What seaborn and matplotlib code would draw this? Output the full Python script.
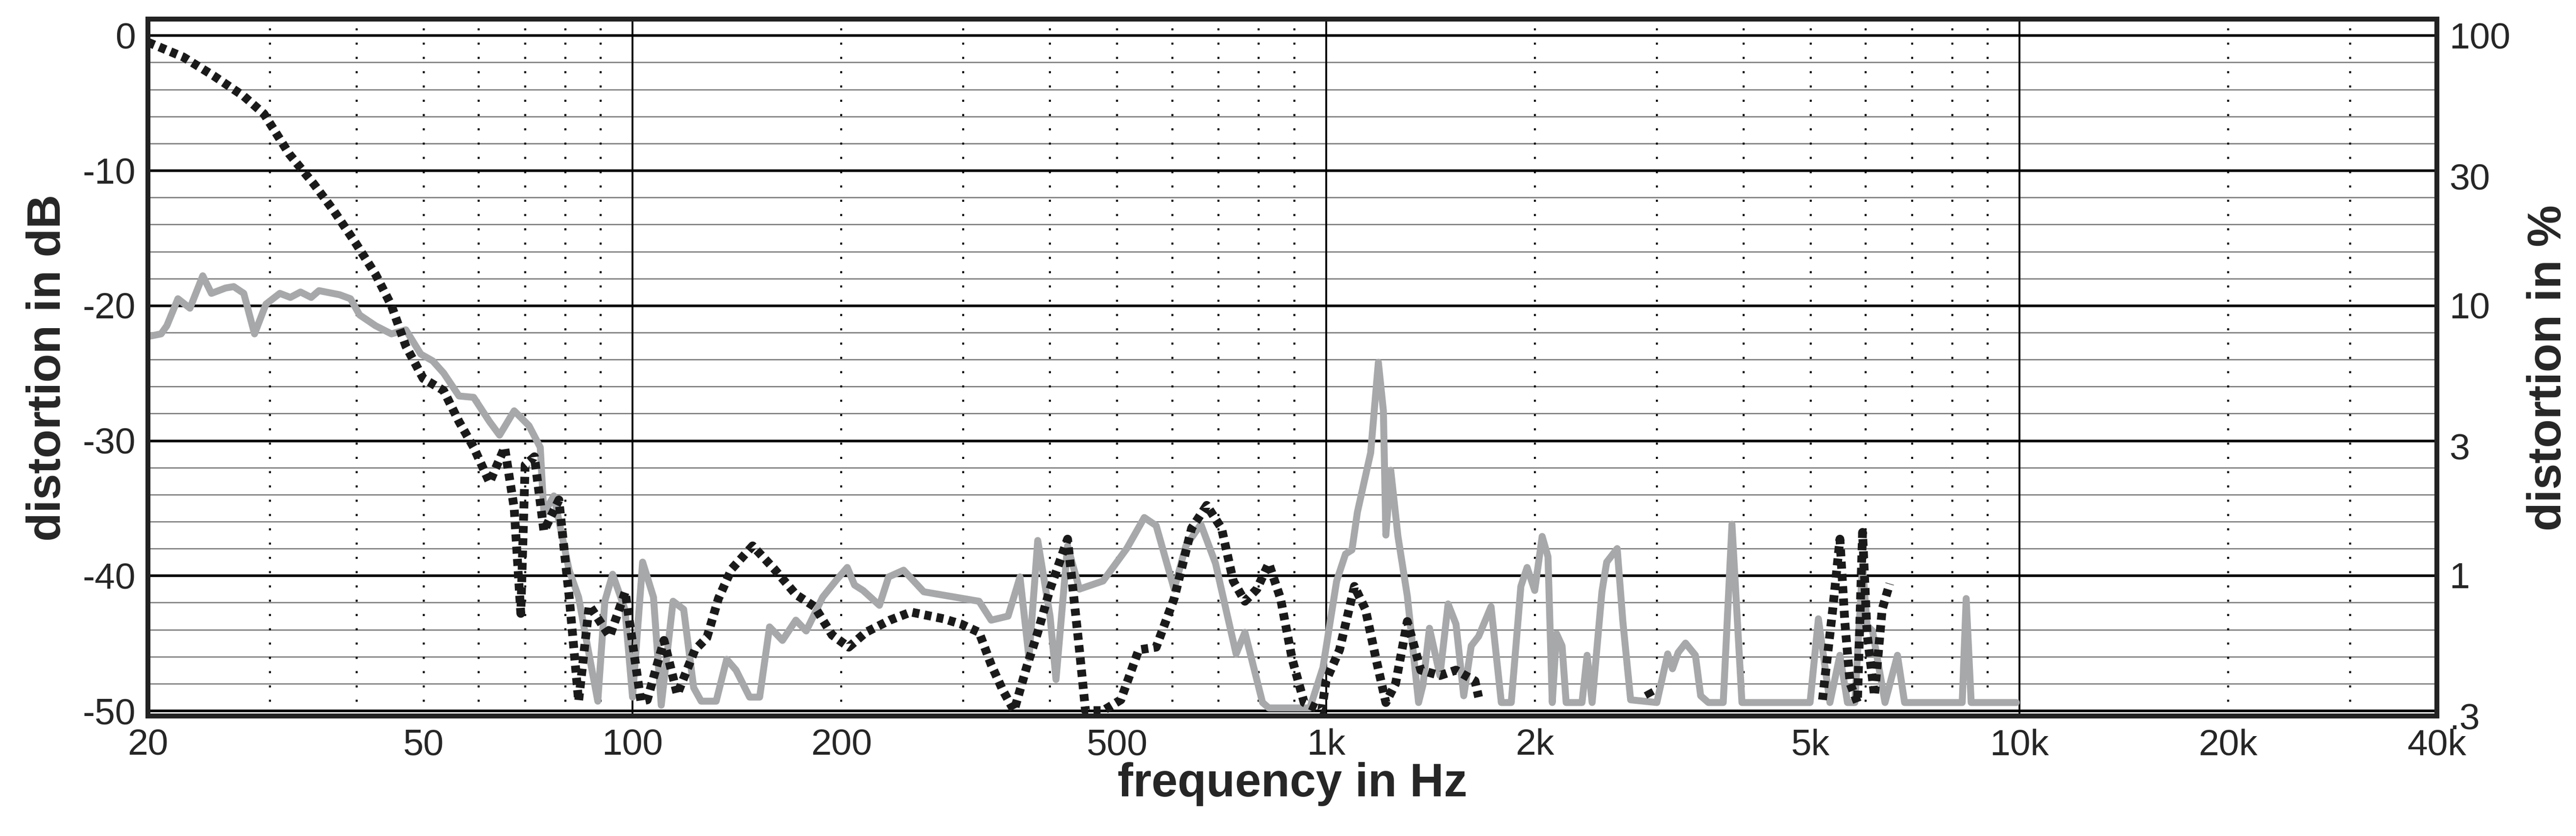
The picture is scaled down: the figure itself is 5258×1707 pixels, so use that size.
import numpy as np
import matplotlib
matplotlib.use("Agg")
import matplotlib.pyplot as plt
import seaborn as sns

# black dotted curve, split into segments (gaps where nothing is drawn)
black_f1 = [20, 22.5, 24.9, 27.5, 29.4, 32, 34.7, 37.1, 39.9, 42.6, 44.9, 47.1, 49.9,
            53.4, 56.2, 59.0, 62.2, 65.4, 67.5, 69, 70, 72.2, 74.5, 78.3, 81, 83.6,
            86.6, 92.7, 97.6, 102.8, 105, 111, 116, 123, 128, 133, 139, 149, 160,
            172, 183, 194, 205, 217, 235, 252, 281, 298, 316, 329, 342, 355, 370,
            384, 400, 424, 441, 450, 477, 506, 537, 569, 604, 640, 673, 707, 735,
            764, 795, 827, 860, 894, 930, 986, 1000, 1046, 1099, 1140, 1180, 1220,
            1260, 1310, 1370, 1460, 1540, 1640, 1660]
black_db1 = [-0.5, -1.6, -3.0, -4.5, -5.8, -8.8, -11.0, -13.0, -15.4, -17.7, -20.0, -23.0,
             -25.4, -26.3, -28.6, -30.5, -33.1, -30.5, -35.0, -42.8, -31.8, -31.2, -36.7,
             -34.4, -41.5, -49.3, -42.2, -44.5, -41.2, -49.3, -49.2, -44.8, -48.8,
             -45.5, -44.6, -41.7, -39.5, -37.8, -39.5, -41.4, -42.3, -44.4, -45.3,
             -44.2, -43.3, -42.7, -43.2, -43.6, -44.2, -46.6, -48.5, -50.0, -46.8,
             -44.2, -41.0, -37.3, -45.5, -50.0, -50.0, -49.2, -45.5, -45.3, -41.7,
             -36.5, -34.8, -36.5, -40.4, -41.9, -41.0, -39.1, -41.7, -46.2, -49.4,
             -50.0, -47.8, -45.5, -40.8, -42.5, -46.1, -49.4, -48.0, -43.4, -47.0,
             -47.4, -47.0, -47.8, -49.0]
black_f2 = [2910, 2960]
black_db2 = [-48.5, -49.2]
black_f3 = [5200, 5380, 5510, 5600, 5700, 5840, 5940, 6030, 6180, 6340, 6500]
black_db3 = [-49.2, -42.5, -37.3, -43.4, -48.0, -49.4, -36.8, -44.3, -48.9, -42.5, -40.6]

# grey solid curve
grey_f = [20, 20.9, 21.3, 22.1, 23, 24, 24.7, 25.9, 26.6, 27.5, 28.5, 29.6, 31.0, 32.1,
          33.2, 34.4, 35.3, 37.8, 39.2, 40.4, 42.6, 44.9, 47.1, 49.5, 51.5, 53.4, 56.2,
          59, 62.2, 64.3, 67.5, 70.9, 73.6, 74.5, 77, 81, 83.6, 85.8, 89.1, 91.2, 93.6,
          97.5, 100, 103.4, 107.2, 110, 114.4, 118.5, 122.5, 125.6, 132, 136.7, 141,
          147.5, 152.5, 157.6, 164.5, 172, 178, 188, 197, 204, 209, 215, 227, 234, 246,
          263, 316, 329, 348, 362, 373, 384, 400, 408, 424, 441, 477, 516, 547, 569,
          604, 628, 660, 693, 721, 742, 764, 810, 827, 948, 990, 1036, 1067, 1090, 1110,
          1160, 1190, 1210, 1220, 1240, 1270, 1310, 1360, 1380, 1410, 1460, 1500, 1540,
          1580, 1620, 1660, 1730, 1790, 1850, 1910, 1950, 2000, 2050, 2090, 2120, 2150,
          2190, 2220, 2340, 2380, 2420, 2500, 2540, 2630, 2680, 2750, 3000, 3110, 3160,
          3220, 3300, 3410, 3470, 3560, 3740, 3850, 3980, 4990, 5130, 5330, 5510, 5650,
          5790, 5940, 6030, 6140, 6400, 6670, 6830, 8270, 8380, 8520, 9900]
grey_db = [-22.3, -22.1, -21.5, -19.5, -20.2, -17.8, -19.1, -18.7, -18.6, -19.1, -22.1,
           -19.9, -19.1, -19.4, -19.0, -19.4, -18.9, -19.2, -19.5, -20.7, -21.5, -22.1,
           -21.8, -23.6, -24.1, -25.0, -26.7, -26.8, -28.6, -29.6, -27.8, -28.9, -30.5,
           -35.4, -34.1, -39.6, -41.6, -44.8, -49.3, -41.9, -39.9, -42.5, -49.0, -39.0,
           -41.6, -49.6, -41.9, -42.5, -48.3, -49.3, -49.3, -46.2, -47.0, -49.0, -49.0,
           -43.8, -44.8, -43.3, -44.1, -41.6, -40.3, -39.4, -40.7, -41.1, -42.2, -40.1,
           -39.6, -41.2, -41.9, -43.3, -43.0, -40.1, -46.1, -37.4, -43.0, -47.7, -37.8,
           -41.0, -40.4, -38.0, -35.7, -36.3, -41.0, -37.8, -36.2, -39.1, -43.0, -45.8,
           -44.2, -49.4, -49.8, -49.8, -46.8, -40.4, -38.4, -38.1, -35.3, -30.9, -24.2,
           -27.8, -37.0, -32.2, -37.1, -41.5, -49.4, -48.1, -43.9, -47.4, -42.1, -43.6,
           -48.9, -45.2, -44.5, -42.3, -49.4, -49.4, -40.8, -39.4, -41.1, -37.1, -38.6,
           -49.4, -44.3, -45.2, -49.4, -49.4, -45.9, -49.4, -41.2, -39.0, -38.0, -43.4,
           -49.2, -49.4, -45.8, -46.9, -45.7, -45.0, -45.9, -48.9, -49.4, -49.4, -36.2,
           -49.4, -49.4, -43.2, -49.4, -45.9, -49.4, -49.4, -39.2, -43.7, -44.1, -49.4,
           -45.9, -49.4, -49.4, -41.7, -49.4, -49.4]

x_ticks = [20, 50, 100, 200, 500, 1000, 2000, 5000, 10000, 20000, 40000]
x_labels = ["20", "50", "100", "200", "500", "1k", "2k", "5k", "10k", "20k", "40k"]
db_ticks = [0, -10, -20, -30, -40, -50]
pct_ticks = [100, 30, 10, 3, 1, 0.3]
pct_labels = ["100", "30", "10", "3", "1", ".3"]

sns.set_style("white")
plt.rcParams['font.family'] = ['Liberation Sans', 'DejaVu Sans']

fig = plt.figure(figsize=(5258 / 300, 1707 / 300), dpi=300)
ax = fig.add_axes([0.0574, 0.1435, 0.8886, 0.8335])

# grid
for d in np.arange(-50, 2, 2):
    major = d % 10 == 0
    ax.axhline(d, color='black' if major else '#777777',
               lw=1.3 if major else 0.6, zorder=1)
for dec in [10, 100, 1000, 10000]:
    for m in range(1, 10):
        f = dec * m
        if f < 20 or f > 40000:
            continue
        if m == 1:
            ax.axvline(f, color='black', lw=0.9, zorder=1)
        else:
            ax.axvline(f, color='black', lw=1.0, ls=(0, (1, 6)), zorder=1)

sns.lineplot(x=grey_f, y=grey_db, ax=ax, color='#a7a8aa', lw=3.4,
             estimator=None, sort=False, zorder=3)
for fs, ds in [(black_f1, black_db1), (black_f2, black_db2), (black_f3, black_db3)]:
    sns.lineplot(x=fs, y=ds, ax=ax, color='#1a1a1a', lw=4.3,
                 ls=(0, (0.8, 0.6)), estimator=None, sort=False, zorder=4)

ax.set_xscale('log')
ax.set_xlim(20, 40000)
ax.set_ylim(-50.4, 1.2)
ax.set_xticks(x_ticks)
ax.set_xticklabels(x_labels)
ax.xaxis.set_minor_locator(matplotlib.ticker.NullLocator())
ax.set_yticks(db_ticks)
ax.set_yticklabels([str(t) for t in db_ticks])
ax.tick_params(labelsize=18, length=0, pad=6)
ax.set_xlabel("frequency in Hz", fontsize=23, fontweight='bold', labelpad=0)
ax.set_ylabel("distortion in dB", fontsize=23, fontweight='bold', labelpad=6)
for s in ax.spines.values():
    s.set_linewidth(2.4)
    s.set_color('#222222')

ax2 = ax.twinx()
ax2.set_ylim(ax.get_ylim())
ax2.set_yticks([20 * np.log10(p / 100) for p in pct_ticks])
ax2.set_yticklabels(pct_labels)
ax2.tick_params(labelsize=18, length=0, pad=6)
ax2.set_ylabel("distortion in %", fontsize=23, fontweight='bold', labelpad=8)
for s in ax2.spines.values():
    s.set_linewidth(2.4)
    s.set_color('#222222')

fig.savefig("out.png", dpi=300)
